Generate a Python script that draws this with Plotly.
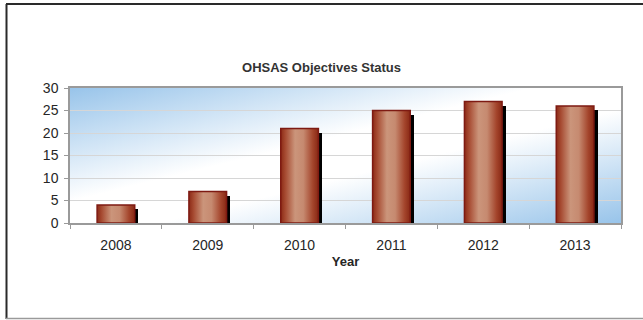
import base64
import plotly.graph_objects as go

# OHSAS objectives per year
years = ["2008", "2009", "2010", "2011", "2012", "2013"]
objectives = [4, 7, 21, 25, 27, 26]
y_ticks = [0, 5, 10, 15, 20, 25, 30]

FONT = "Liberation Sans, Arial, sans-serif"
W, H = 643, 320
ML, MR, MT, MB = 70, 22, 88, 97
PW, PH = W - ML - MR, H - MT - MB

BAR_W = 0.41
SHADOW_DX = 0.04
SHADOW_DY = 0.9

BAR_SCALE = [
    [0.0, "#8c2a16"],
    [0.12, "#a64a31"],
    [0.38, "#cb957b"],
    [0.6, "#c68a70"],
    [0.85, "#a4452c"],
    [1.0, "#882814"],
]


def px_x(px):
    return (px - ML) / PW


def px_y(py):
    return (H - MB - py) / PH


fig = go.Figure()

# drop shadows behind the bars
fig.add_trace(go.Bar(
    x=[i + SHADOW_DX for i in range(len(years))],
    y=[v - SHADOW_DY for v in objectives],
    width=BAR_W,
    marker=dict(color="#000000", line=dict(width=0)),
    hoverinfo="skip",
    showlegend=False,
))

# bars with a horizontal copper gradient
for i, v in enumerate(objectives):
    x0, x1 = i - BAR_W / 2, i + BAR_W / 2
    fig.add_trace(go.Scatter(
        x=[x0, x1, x1, x0, x0],
        y=[0, 0, v, v, 0],
        mode="lines",
        fill="toself",
        fillgradient=dict(type="horizontal", colorscale=BAR_SCALE),
        line=dict(color="#7e1a12", width=1.5),
        name=years[i],
        hovertemplate=f"{years[i]}: {v}<extra></extra>",
        showlegend=False,
    ))

# diagonal blue-white-blue wash behind the plot area
svg = (
    '<svg xmlns="http://www.w3.org/2000/svg" width="100" height="100" '
    'viewBox="0 0 100 100" preserveAspectRatio="none">'
    '<defs><linearGradient id="g" x1="0" y1="0" x2="1" y2="1">'
    '<stop offset="0" stop-color="#98c4ea"/>'
    '<stop offset="0.42" stop-color="#ffffff"/>'
    '<stop offset="0.58" stop-color="#ffffff"/>'
    '<stop offset="1" stop-color="#98c4ea"/>'
    '</linearGradient></defs>'
    '<rect width="100" height="100" fill="url(#g)"/></svg>'
)
bg_src = "data:image/svg+xml;base64," + base64.b64encode(svg.encode()).decode()

fig.add_layout_image(dict(
    source=bg_src, xref="paper", yref="paper", x=0, y=1,
    sizex=1, sizey=1, xanchor="left", yanchor="top",
    sizing="stretch", layer="below",
))

# outer frame
frame = [
    dict(x0=px_x(6.5), x1=px_x(6.5), y0=px_y(4), y1=px_y(319), color="#2a2a2a", width=2),
    dict(x0=px_x(6), x1=px_x(660), y0=px_y(4), y1=px_y(4), color="#2a2a2a", width=2),
    dict(x0=px_x(6), x1=px_x(660), y0=px_y(318.5), y1=px_y(318.5), color="#9a9a9a", width=1.5),
]
for f in frame:
    fig.add_shape(type="line", xref="paper", yref="paper",
                  x0=f["x0"], x1=f["x1"], y0=f["y0"], y1=f["y1"],
                  line=dict(color=f["color"], width=f["width"]))

fig.update_layout(
    width=W, height=H,
    margin=dict(l=ML, r=MR, t=MT, b=MB, pad=0),
    paper_bgcolor="#ffffff",
    plot_bgcolor="rgba(0,0,0,0)",
    font=dict(family=FONT, color="#262626", size=13),
    title=dict(
        text="<b>OHSAS Objectives Status</b>",
        x=0.5, xref="container", xanchor="center",
        y=1 - 67 / H, yref="container", yanchor="middle",
        font=dict(family=FONT, size=13, color="#333333"),
    ),
    showlegend=False,
    bargap=0,
    xaxis=dict(
        range=[-0.5, len(years) - 0.5],
        tickmode="array",
        tickvals=list(range(len(years))),
        ticktext=years,
        ticks="",
        ticklabelstandoff=8,
        tickfont=dict(size=14, color="#262626"),
        showgrid=False,
        zeroline=False,
        showline=True, linecolor="#9a9a9a", linewidth=1.5, mirror=True,
        minor=dict(tickmode="array",
                   tickvals=[i - 0.5 for i in range(len(years) + 1)],
                   ticks="outside", ticklen=4, tickcolor="#9a9a9a", tickwidth=1,
                   showgrid=False),
        title=dict(text="<b>Year</b>", font=dict(size=13, color="#262626"), standoff=5),
        fixedrange=True,
    ),
    yaxis=dict(
        range=[0, 30],
        tickmode="array",
        tickvals=y_ticks,
        ticks="outside", ticklen=4, tickcolor="#9a9a9a", tickwidth=1,
        ticklabelstandoff=3,
        tickfont=dict(size=14, color="#262626"),
        showgrid=True, gridcolor="#d6d6d6", gridwidth=1,
        zeroline=False,
        showline=True, linecolor="#9a9a9a", linewidth=1.5, mirror=True,
        fixedrange=True,
    ),
)

fig.write_html("out.html")
